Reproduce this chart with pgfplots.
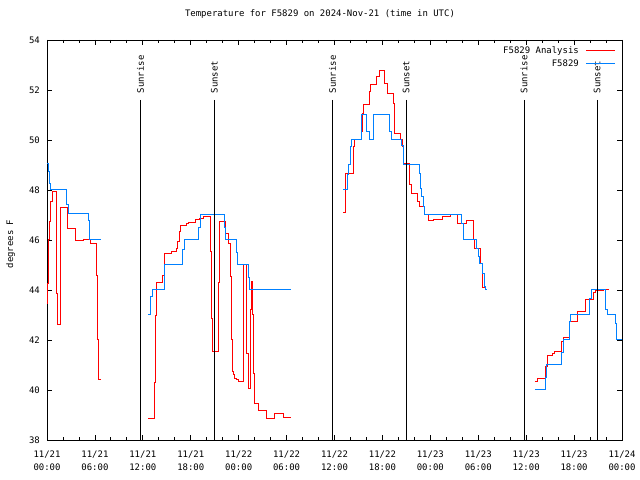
\documentclass[border=0pt]{standalone}
\usepackage{fontspec}
\setmainfont{DejaVu Sans Mono}
\usepackage{pgfplots}
\pgfplotsset{compat=1.18}
\definecolor{obsblue}{RGB}{0,128,255}
\definecolor{anared}{RGB}{255,0,0}
\begin{document}
\fontsize{9}{13}\selectfont
\begin{tikzpicture}
\useasboundingbox (0,0) rectangle (640bp,480bp);
\begin{axis}[
  at={(47bp,40bp)}, anchor=south west,
  scale only axis, width=575bp, height=400bp,
  xmin=0, xmax=72, ymin=38, ymax=54,
  axis line style={line width=0.8bp},
  every tick/.style={black, line width=0.8bp},
  tick align=inside,
  major tick length=5bp, minor tick length=3bp,
  xtick={0,6,...,72},
  minor x tick num=2,
  xticklabels={{11/21\\00:00},{11/21\\06:00},{11/21\\12:00},{11/21\\18:00},
    {11/22\\00:00},{11/22\\06:00},{11/22\\12:00},{11/22\\18:00},
    {11/23\\00:00},{11/23\\06:00},{11/23\\12:00},{11/23\\18:00},{11/24\\00:00}},
  xticklabel style={align=center, font=\fontsize{9}{13}\selectfont, yshift=-8bp},
  ytick={38,40,...,54},
  yticklabel style={font=\fontsize{9}{13}\selectfont, xshift=-4bp},
  /pgf/number format/assume math mode=true,
  ylabel={degrees F},
  ylabel style={at={(axis description cs:-0.063,0.49)}, anchor=center},
  title={Temperature for F5829 on 2024-Nov-21 (time in UTC)},
  title style={at={(axis description cs:0.4748,1.05)}, anchor=center},
  legend plot pos=right,
  legend cell align=right,
  legend style={at={(axis description cs:1,1)}, anchor=north east,
    draw=none, fill=none, xshift=-3bp, yshift=-2bp, row sep=1bp,
    column sep=5bp,
    font=\fontsize{9}{13}\selectfont},
  legend image code/.code={\draw[#1] (0bp,0bp) -- (29bp,0bp);},
  const plot,
]
% analysis (red)
\addplot[anared, line width=1bp] coordinates {
 (0.0,43.44) (0.04,44.27) (0.25,46.0) (0.375,46.73) (0.5,47.53) (0.67,47.93)
 (1.13,43.87) (1.33,42.6) (1.67,47.31) (2.54,46.47) (3.59,45.97) (4.55,46.0)
 (5.47,45.87) (6.22,44.56) (6.34,42.0) (6.42,40.5) (6.5,40.4) (6.7,40.4)
};
\addlegendentry{F5829 Analysis}
\addplot[anared, line width=1bp, forget plot] coordinates {
 (12.68,38.87) (13.43,40.3) (13.6,42.96) (13.73,44.3) (14.43,44.56) (14.68,45.47)
 (15.61,45.53) (16.23,45.67) (16.36,45.93) (16.56,46.33) (16.73,46.56) (17.48,46.64)
 (17.68,46.71) (18.65,46.8) (19.15,46.87) (19.56,46.93) (20.49,45.53) (20.58,42.87)
 (20.7,41.53) (21.44,44.28) (21.6,46.73) (22.4,46.27) (22.69,45.87) (22.99,44.53)
 (23.12,42.0) (23.19,40.73) (23.32,40.6) (23.53,40.47) (23.74,40.4) (23.95,40.33)
 (24.57,45.0) (24.99,41.47) (25.2,40.07) (25.49,43.2) (25.6,44.33) (25.7,43.0)
 (25.85,40.67) (25.95,39.44) (26.45,39.17) (27.5,38.84) (28.54,39.07) (29.58,38.91)
 (30.5,38.91)
};
\addplot[anared, line width=1bp, forget plot] coordinates {
 (37.09,47.11) (37.42,48.67) (38.34,49.73) (38.55,50.03) (39.38,50.33) (39.51,51.07)
 (39.59,51.4) (40.34,51.93) (40.51,52.23) (41.26,52.53) (41.59,52.77) (42.3,52.24)
 (42.59,51.84) (43.34,51.47) (43.47,50.27) (44.27,50.0) (44.52,49.73) (44.6,49.33)
 (44.68,49.04) (45.35,48.8) (45.43,48.2) (45.64,47.87) (46.35,47.53) (46.6,47.33)
 (47.31,47.0) (47.72,46.76) (48.44,46.83) (49.52,46.93) (50.53,47.0) (51.4,46.67)
 (52.53,46.77) (53.36,46.0) (53.57,45.64) (54.28,45.07) (54.53,44.11) (55.03,44.11)
};
\addplot[anared, line width=1bp, forget plot] coordinates {
 (61.08,40.33) (61.36,40.47) (62.45,40.93) (62.62,41.36) (63.29,41.47) (63.49,41.53)
 (64.42,41.93) (64.62,42.1) (65.37,42.73) (66.37,43.13) (67.46,43.63) (68.46,43.89)
 (68.71,43.97) (69.63,44.0) (70.38,44.0)
};
% observations (blue)
\addplot[obsblue, line width=1bp] coordinates {
 (0,49.04) (0.17,48.73) (0.29,48.27) (0.46,48.03) (2.46,47.4) (2.67,47.04)
 (5.17,46.76) (5.38,46.03) (6.72,46.03)
};
\addlegendentry{F5829}
\addplot[obsblue, line width=1bp, forget plot] coordinates {
 (12.68,43.03) (12.98,43.73) (13.18,44.03) (14.68,45.03) (16.98,45.6) (17.18,46.03)
 (18.94,46.5) (19.24,47.0) (22.19,46.5) (22.3,46.03) (23.74,45.5) (23.9,45.03)
 (25.2,44.5) (25.4,44.03) (30.5,44.03)
};
\addplot[obsblue, line width=1bp, forget plot] coordinates {
 (37.09,48.03) (37.58,48.6) (37.8,49.0) (38.01,49.73) (38.14,50.03) (39.38,51.03)
 (40.01,50.33) (40.34,50.0) (40.84,51.03) (42.84,50.33) (43.14,50.0) (44.39,49.76)
 (44.6,49.3) (44.68,49.03) (46.6,48.67) (46.77,48.07) (46.93,47.73) (47.1,47.33)
 (47.31,47.0) (51.9,46.67) (52.1,46.03) (53.78,45.67) (53.98,45.33) (54.19,45.04)
 (54.53,44.67) (54.73,44.13) (54.94,44.0) (55.15,44.0)
};
\addplot[obsblue, line width=1bp, forget plot] coordinates {
 (61.08,40.0) (62.41,40.5) (62.54,41.0) (64.42,41.5) (64.62,42.03) (65.46,42.73)
 (65.58,43.0) (67.87,43.67) (68.17,44.0) (69.96,43.23) (70.13,43.0) (71.21,42.67)
 (71.37,42.0) (72,42.0)
};
% sunrise / sunset markers
\foreach \t/\lab in {11.72/Sunrise,20.96/Sunset,35.76/Sunrise,44.98/Sunset,59.74/Sunrise,68.88/Sunset}{
  \edef\tmp{\noexpand\addplot[black, line width=1bp, sharp plot, forget plot] coordinates {(\t,51.6) (\t,38)};
    \noexpand\node[rotate=90, anchor=west, inner sep=0pt, font=\noexpand\fontsize{9}{13}\noexpand\selectfont] at (axis cs:\t,51.86) {\lab};}
  \tmp
}
\end{axis}
\end{tikzpicture}
\end{document}
